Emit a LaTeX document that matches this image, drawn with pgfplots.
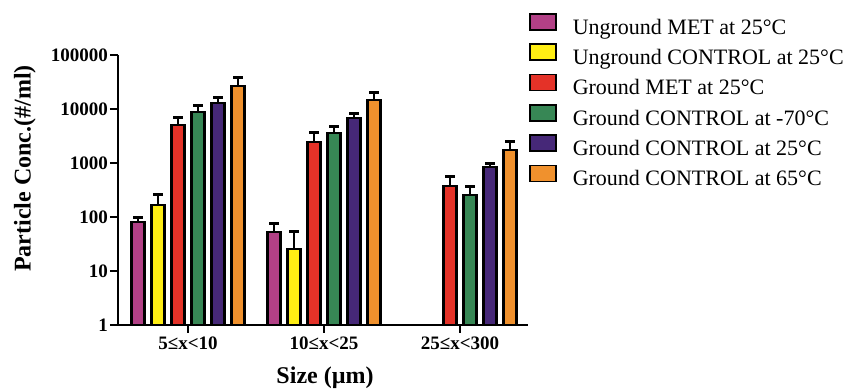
\documentclass[border=0pt]{standalone}
\usepackage{fontspec}
\setmainfont{Liberation Serif}
\usepackage{pgfplots}
\pgfplotsset{compat=1.18}
\definecolor{cMag}{RGB}{178,64,134}
\definecolor{cYel}{RGB}{255,238,20}
\definecolor{cRed}{RGB}{228,50,40}
\definecolor{cGrn}{RGB}{55,135,85}
\definecolor{cPur}{RGB}{70,40,120}
\definecolor{cOra}{RGB}{240,145,45}
\begin{document}
\begin{tikzpicture}
\begin{axis}[
  at={(0pt,0pt)}, anchor=south west,
  width=410pt, height=270pt, scale only axis,
  ymode=log, ymin=1, ymax=100000,
  xmin=-0.515, xmax=2.5,
  ytick={1,10,100,1000,10000,100000},
  yticklabels={1,10,100,1000,10000,100000},
  yminorticks=false,
  xtick={0,1,2},
  xticklabels={5≤x<10,10≤x<25,25≤x<300},
  axis x line*=bottom, axis y line*=left,
  axis line style={line width=2.2pt,-},
  tick style={line width=2pt,black},
  tick align=outside,
  major tick length=8pt,
  /pgf/number format/assume math mode=true,
  ticklabel style={font=\fontsize{19}{22}\selectfont\bfseries},
  yticklabel style={inner xsep=2pt},
  xlabel={Size (µm)},
  ylabel={Particle Conc.(\#/ml)},
  every axis x label/.style={at={(axis description cs:0.505,-0.215)}, anchor=base, font=\fontsize{24}{28}\selectfont\bfseries},
  every axis y label/.style={at={(axis description cs:-0.227,0.58)}, anchor=center, rotate=90, font=\fontsize{24}{28}\selectfont\bfseries},
  ybar=7pt, bar width=13pt,
  every axis plot/.append style={draw=black, line width=2.2pt},
  error bars/y dir=plus, error bars/y explicit,
  error bars/error bar style={line width=2.2pt, black},
  error bars/error mark options={rotate=90, mark size=5pt, line width=3pt, black},
  legend style={at={(1.0024,1.156)}, anchor=north west, draw=none, fill=none,
    inner xsep=0pt, inner ysep=0pt,
    font=\fontsize{22}{26}\selectfont,
    nodes={inner sep=0pt, text height=15pt, text depth=5pt},
    row sep=4pt, column sep=16pt},
  legend cell align=left,
  legend image code/.code={\draw[#1, line width=1.6pt] (0pt,-0.5pt) rectangle (26pt,15.5pt);},
]
\addplot[fill=cMag] coordinates {(0,81) +- (0,19) (1,53) +- (0,24)};
\addplot[fill=cYel] coordinates {(0,167) +- (0,89) (1,25.5) +- (0,27.5)};
\addplot[fill=cRed] coordinates {(0,5050) +- (0,2050) (1,2450) +- (0,1300) (2,375) +- (0,195)};
\addplot[fill=cGrn] coordinates {(0,8800) +- (0,3000) (1,3600) +- (0,1050) (2,255) +- (0,105)};
\addplot[fill=cPur] coordinates {(0,12900) +- (0,3100) (1,6800) +- (0,1300) (2,845) +- (0,115)};
\addplot[fill=cOra] coordinates {(0,26700) +- (0,12300) (1,14700) +- (0,5100) (2,1740) +- (0,710)};
\legend{Unground MET at 25°C, Unground CONTROL at 25°C, Ground MET at 25°C, Ground CONTROL at -70°C, Ground CONTROL at 25°C, Ground CONTROL at 65°C}
\end{axis}
\pgfresetboundingbox
\path (-118pt,-64pt) rectangle (731pt,325pt);
\end{tikzpicture}
\end{document}
